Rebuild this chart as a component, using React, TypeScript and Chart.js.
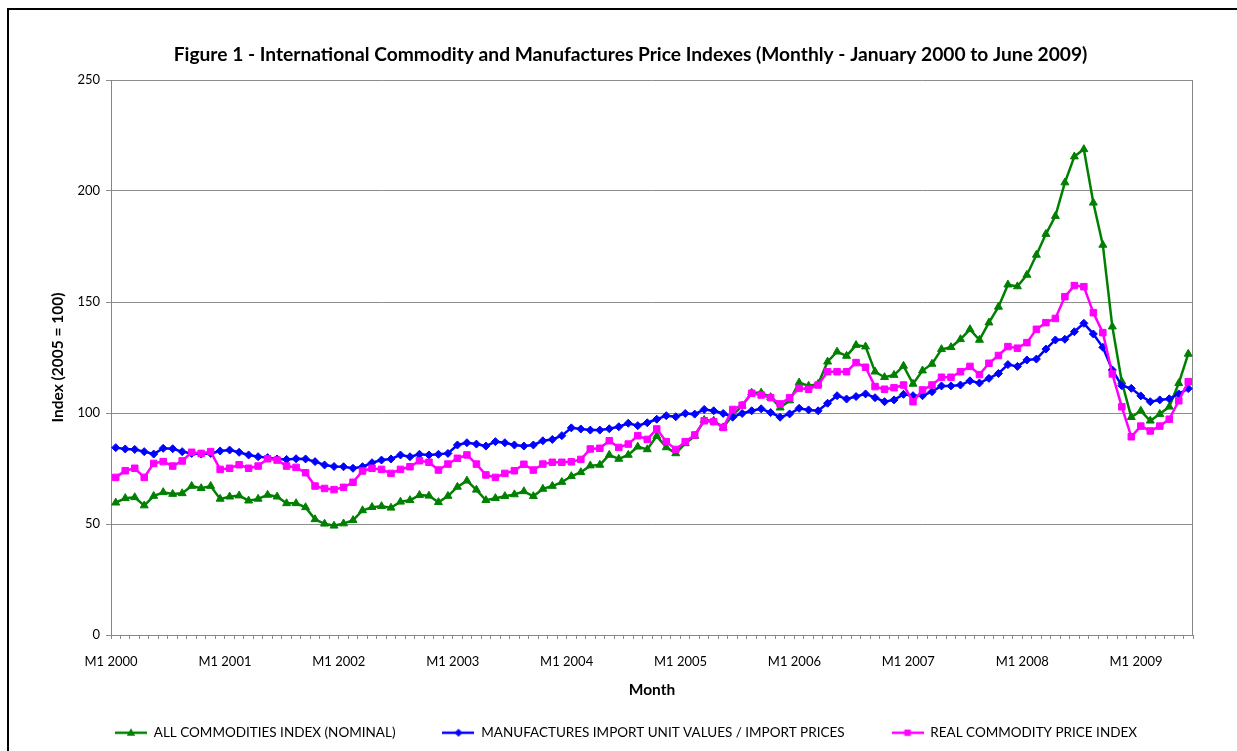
import React, { useEffect, useRef } from "react";
import { Chart, registerables } from "chart.js";

Chart.register(...registerables);

// ---------- DATA ----------
const years = [2000, 2001, 2002, 2003, 2004, 2005, 2006, 2007, 2008, 2009];
const monthsPerYear = [12, 12, 12, 12, 12, 12, 12, 12, 12, 6];

const categories: string[] = [];
years.forEach((y, yi) => {
  for (let m = 1; m <= monthsPerYear[yi]; m++) categories.push(`M${m} ${y}`);
});

const allCommodities = [
  59.6, 61.6, 62.0, 58.3, 62.6, 64.3, 63.5, 63.8, 67.1, 66.1, 67.1, 61.3,
  62.3, 62.8, 60.5, 61.3, 63.1, 62.3, 59.3, 59.3, 57.5, 52.1, 50.1, 49.2,
  50.2, 51.7, 56.1, 57.6, 58.0, 57.3, 60.0, 60.7, 63.0, 62.7, 59.8, 62.6,
  66.7, 69.5, 65.4, 60.7, 61.6, 62.5, 63.3, 64.7, 62.5, 65.8, 67.1, 68.9,
  71.5, 73.3, 76.3, 76.6, 81.1, 79.3, 81.1, 84.8, 83.6, 89.6, 84.5, 81.8,
  86.3, 89.6, 96.8, 96.5, 93.5, 99.1, 103.2, 109.1, 109.1, 107.1, 102.4, 105.6,
  113.7, 112.2, 113.1, 123.1, 127.6, 125.7, 130.6, 129.9, 118.6, 116.1, 117.1, 121.2,
  113.1, 119.1, 122.1, 128.7, 129.6, 133.2, 137.7, 132.9, 140.7, 147.8, 157.8, 157.0,
  162.2, 171.2, 180.6, 188.7, 203.8, 215.5, 218.8, 194.7, 175.7, 138.9, 114.1, 98.1,
  101.0, 96.5, 99.5, 102.8, 113.4, 126.6,
];

const manufactures = [
  84.4, 83.8, 83.6, 82.6, 81.5, 84.1, 83.9, 82.6, 81.8, 81.5, 81.8, 82.9,
  83.3, 82.3, 81.1, 80.3, 79.9, 79.3, 79.1, 79.4, 79.3, 78.1, 76.6, 75.9,
  75.8, 75.1, 75.8, 77.6, 78.8, 79.3, 81.1, 80.3, 81.4, 81.1, 81.4, 81.8,
  85.6, 86.6, 86.0, 85.1, 87.1, 86.6, 85.6, 85.1, 85.6, 87.5, 88.1, 89.8,
  93.3, 92.8, 92.3, 92.3, 92.9, 93.8, 95.4, 94.3, 95.6, 97.2, 98.8, 98.3,
  99.8, 99.5, 101.6, 101.0, 99.8, 98.1, 99.8, 101.0, 101.9, 100.2, 98.1, 99.6,
  102.1, 101.4, 101.0, 104.4, 107.8, 106.3, 107.4, 108.6, 106.9, 105.1, 105.9, 108.4,
  107.8, 107.8, 109.6, 112.2, 112.2, 112.6, 114.5, 113.5, 115.6, 117.8, 121.8, 121.0,
  123.9, 124.3, 128.8, 132.9, 133.2, 136.6, 140.4, 135.6, 129.6, 119.4, 112.3, 111.1,
  107.7, 105.1, 105.9, 106.4, 108.6, 111.0,
];

const realCommodity = [
  71.0, 74.0, 75.1, 71.0, 77.3, 78.1, 76.1, 78.4, 82.3, 81.8, 82.6, 74.6,
  75.1, 76.7, 75.1, 76.1, 79.4, 78.8, 76.1, 75.5, 73.1, 67.1, 66.0, 65.5,
  66.5, 68.8, 73.9, 75.1, 74.6, 72.8, 74.6, 75.8, 78.5, 77.8, 74.3, 77.0,
  79.6, 81.1, 77.0, 72.1, 71.0, 72.8, 74.0, 76.9, 74.3, 77.0, 77.8, 77.8,
  78.0, 79.1, 83.8, 84.1, 87.5, 84.5, 86.0, 89.8, 88.1, 92.8, 87.1, 83.6,
  87.1, 90.1, 96.5, 96.1, 93.5, 101.6, 103.5, 108.9, 108.1, 106.9, 104.1, 106.9,
  111.1, 110.7, 112.6, 118.6, 118.6, 118.6, 122.7, 120.6, 111.9, 110.7, 111.4, 112.6,
  105.1, 110.4, 112.6, 116.1, 116.1, 118.6, 121.0, 117.3, 122.4, 125.9, 129.9, 129.2,
  131.7, 137.7, 140.7, 142.6, 152.4, 157.4, 156.9, 145.2, 136.2, 117.6, 102.8, 89.3,
  94.1, 91.9, 94.1, 97.2, 105.5, 114.1,
];

const seriesLabels = [
  "ALL COMMODITIES INDEX (NOMINAL)",
  "MANUFACTURES IMPORT UNIT VALUES / IMPORT PRICES",
  "REAL COMMODITY PRICE INDEX",
];
const yTicks = [0, 50, 100, 150, 200, 250];

const titleText =
  "Figure 1 - International Commodity and Manufactures Price Indexes (Monthly - January 2000 to June 2009)";
const yTitle = "Index (2005 = 100)";
const xTitle = "Month";

// ---------- STYLE ----------
const FONT = 'Lato, "Open Sans", "Liberation Sans", sans-serif';
const GREEN = "#008000";
const BLUE = "#0000FF";
const PINK = "#FF00FF";
const GRID = "#8c8c8c";
const AXIS = "#868686";

const W = 1237;
const H = 751;
const LEG_PAD = 47;
const PAD_L = 115 - LEG_PAD;
const PAD_R = 44;
const PAD_B = 1.5;
const LEG_FONT = 13.5;
const LEG_TOP = H - PAD_B - (LEG_FONT + LEG_PAD + 10);
const PLOT_TOP = 80;
const PLOT_BOTTOM = 635;
const PLOT_LEFT = 111;
const TITLE_SIZE = 19.2;
const TITLE_LH = TITLE_SIZE * 1.2;
const AX_TITLE_SIZE = 15.5;
const AX_TITLE_HALF = (AX_TITLE_SIZE * 1.2) / 2;

function makeIcon(color: string, style: string): HTMLCanvasElement {
  const c = document.createElement("canvas");
  c.width = 32;
  c.height = 12;
  const ctx = c.getContext("2d")!;
  ctx.strokeStyle = color;
  ctx.lineWidth = 2.5;
  ctx.beginPath();
  ctx.moveTo(0, 6);
  ctx.lineTo(32, 6);
  ctx.stroke();
  ctx.fillStyle = color;
  ctx.beginPath();
  if (style === "triangle") {
    ctx.moveTo(16, 1.5);
    ctx.lineTo(20.2, 9);
    ctx.lineTo(11.8, 9);
  } else if (style === "rectRot") {
    ctx.moveTo(16, 2);
    ctx.lineTo(20, 6);
    ctx.lineTo(16, 10);
    ctx.lineTo(12, 6);
  } else {
    ctx.rect(12.8, 2.8, 6.4, 6.4);
  }
  ctx.closePath();
  ctx.fill();
  return c;
}

const plotFrame = {
  id: "plotFrame",
  beforeDatasetsDraw(chart: any) {
    const { ctx, chartArea } = chart;
    ctx.save();
    ctx.strokeStyle = AXIS;
    ctx.lineWidth = 1;
    ctx.beginPath();
    ctx.moveTo(chartArea.right - 0.5, chartArea.top);
    ctx.lineTo(chartArea.right - 0.5, chartArea.bottom);
    ctx.stroke();
    ctx.restore();
  },
};

export default function App() {
  const ref = useRef<HTMLCanvasElement | null>(null);

  useEffect(() => {
    if (!ref.current) return;
    Chart.defaults.font.family = FONT;
    Chart.defaults.color = "#000";

    const icons = [
      makeIcon(GREEN, "triangle"),
      makeIcon(BLUE, "rectRot"),
      makeIcon(PINK, "rect"),
    ];

    const chart = new Chart(ref.current, {
      type: "line",
      data: {
        labels: categories,
        datasets: [
          {
            label: seriesLabels[0],
            data: allCommodities,
            borderColor: GREEN,
            backgroundColor: GREEN,
            borderWidth: 2.5,
            pointStyle: "triangle",
            pointRadius: 4.6,
            pointBorderWidth: 1,
            tension: 0,
            order: 3,
          },
          {
            label: seriesLabels[1],
            data: manufactures,
            borderColor: BLUE,
            backgroundColor: BLUE,
            borderWidth: 2.5,
            pointStyle: "rectRot",
            pointRadius: 4,
            pointBorderWidth: 1,
            tension: 0,
            order: 2,
          },
          {
            label: seriesLabels[2],
            data: realCommodity,
            borderColor: PINK,
            backgroundColor: PINK,
            borderWidth: 2.5,
            pointStyle: "rect",
            pointRadius: 4.6,
            pointBorderWidth: 1,
            tension: 0,
            order: 1,
          },
        ],
      },
      options: {
        responsive: false,
        maintainAspectRatio: false,
        animation: false,
        devicePixelRatio: 1,
        layout: { padding: { left: PAD_L, right: PAD_R, top: 0, bottom: PAD_B } },
        plugins: {
          title: {
            display: true,
            text: titleText,
            color: "#000",
            font: { family: FONT, size: TITLE_SIZE, weight: "bold" },
            padding: { top: 55 - TITLE_LH / 2, bottom: PLOT_TOP - (55 + TITLE_LH / 2) },
          },
          legend: {
            position: "bottom",
            align: "start",
            labels: {
              usePointStyle: true,
              pointStyleWidth: 32,
              padding: LEG_PAD,
              color: "#000",
              font: { family: FONT, size: LEG_FONT },
              sort: (a: any, b: any) => a.datasetIndex - b.datasetIndex,
              generateLabels: (c: any) => {
                const items = (Chart.defaults.plugins.legend.labels as any).generateLabels(c);
                items.forEach((it: any) => {
                  it.pointStyle = icons[it.datasetIndex];
                });
                return items;
              },
            },
          },
          tooltip: { enabled: false },
        },
        scales: {
          x: {
            type: "category",
            offset: true,
            grid: {
              offset: true,
              drawOnChartArea: false,
              drawTicks: true,
              tickLength: 4,
              color: GRID,
            },
            border: { color: AXIS, width: 1 },
            ticks: {
              autoSkip: false,
              maxRotation: 0,
              minRotation: 0,
              padding: 15,
              labelOffset: -4.7,
              color: "#000",
              font: { family: FONT, size: 13 },
              callback: (_v: any, i: number) => (i % 12 === 0 ? categories[i] : ""),
            },
            title: {
              display: true,
              text: xTitle,
              color: "#000",
              font: { family: FONT, size: AX_TITLE_SIZE, weight: "bold" },
              padding: { top: 0, bottom: LEG_TOP - 690 - AX_TITLE_HALF },
            },
            afterFit: (s: any) => {
              s.height = LEG_TOP - PLOT_BOTTOM;
            },
          },
          y: {
            min: 0,
            max: 250,
            afterBuildTicks: (s: any) => {
              s.ticks = yTicks.map((v) => ({ value: v }));
            },
            grid: { color: GRID, tickLength: 5 },
            border: { color: AXIS, width: 1 },
            ticks: {
              padding: 6,
              color: "#000",
              font: { family: FONT, size: 13 },
            },
            title: {
              display: true,
              text: yTitle,
              color: "#000",
              font: { family: FONT, size: AX_TITLE_SIZE, weight: "bold" },
              padding: { top: 58 - PAD_L - AX_TITLE_HALF, bottom: 0 },
            },
            afterFit: (s: any) => {
              s.width = PLOT_LEFT - PAD_L;
            },
          },
        },
      } as any,
      plugins: [plotFrame],
    });

    return () => chart.destroy();
  }, []);

  return (
    <div
      style={{
        position: "fixed",
        left: 0,
        top: 0,
        width: W,
        height: H,
        overflow: "hidden",
        background: "#fff",
      }}
    >
      <div
        style={{
          position: "absolute",
          left: 7,
          top: 8,
          width: W + 20,
          height: H + 20,
          border: "2px solid #000",
          boxSizing: "border-box",
        }}
      />
      <canvas
        ref={ref}
        width={W}
        height={H}
        style={{ position: "absolute", left: 0, top: 0, width: W, height: H }}
      />
    </div>
  );
}
